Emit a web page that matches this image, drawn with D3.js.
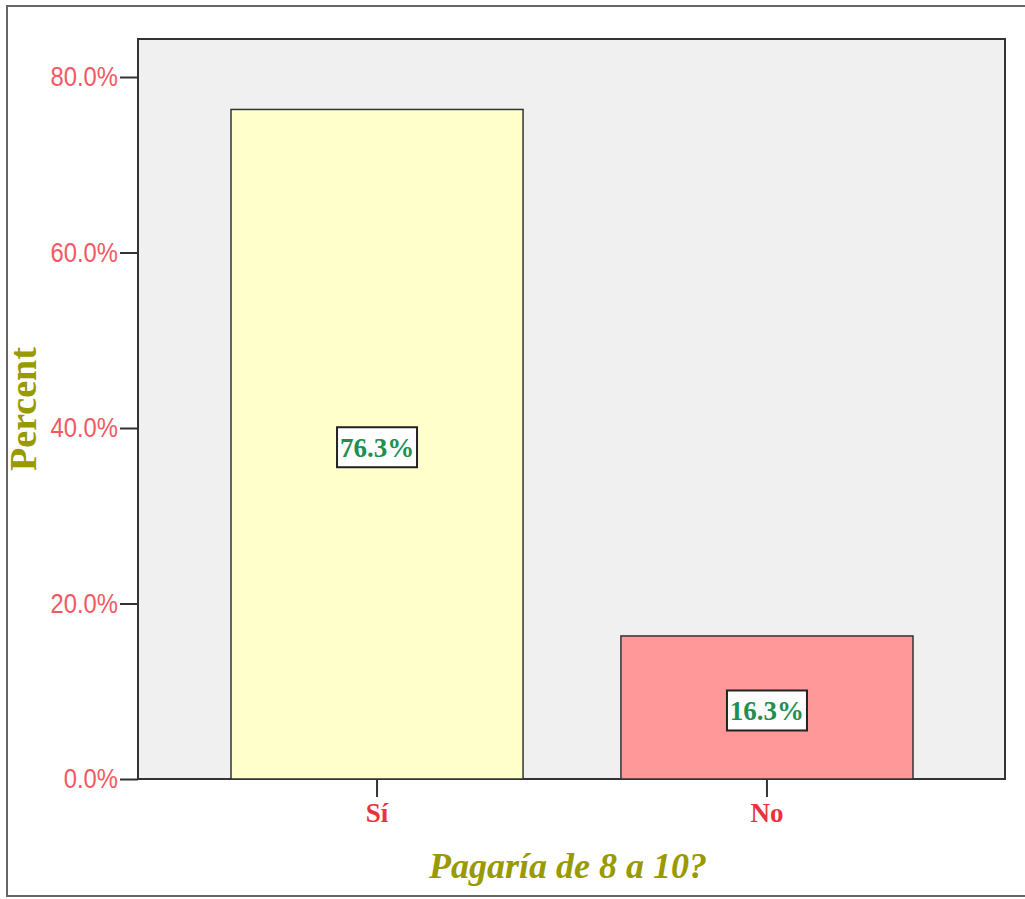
<!DOCTYPE html>
<html>
<head>
<meta charset="utf-8">
<script src="https://cdn.jsdelivr.net/npm/d3@7"></script>
<style>
  body { margin: 0; background: #fff; }
  svg { display: block; }
</style>
</head>
<body>
<svg id="chart" width="1025" height="899"></svg>
<script>
// chart data
const categories = ["Sí", "No"];
const percents = [76.3, 16.3];
const barColors = ["#ffffcc", "#ff9999"];
const yTicks = [0, 20, 40, 60, 80];

const svg = d3.select("#chart");

// outer frame
svg.append("rect")
    .attr("x", 7).attr("y", 6)
    .attr("width", 1040).attr("height", 890)
    .attr("fill", "#fff")
    .attr("stroke", "#666")
    .attr("stroke-width", 2);

// plot area
const plot = { left: 138, top: 39, right: 1005, bottom: 779 };

const y = d3.scaleLinear()
    .domain([0, 80])
    .range([plot.bottom, 77]);

const x = d3.scaleBand()
    .domain(categories)
    .range([231, 913])
    .paddingInner(0.251)
    .paddingOuter(0);

svg.append("rect")
    .attr("x", plot.left).attr("y", plot.top)
    .attr("width", plot.right - plot.left)
    .attr("height", plot.bottom - plot.top)
    .attr("fill", "#f0f0f0")
    .attr("stroke", "#333")
    .attr("stroke-width", 2);

// bars
svg.selectAll("rect.bar")
    .data(percents)
    .enter()
    .append("rect")
    .attr("class", "bar")
    .attr("x", (d, i) => x(categories[i]))
    .attr("y", d => y(d))
    .attr("width", x.bandwidth())
    .attr("height", d => y(0) - y(d))
    .attr("fill", (d, i) => barColors[i])
    .attr("stroke", "#333")
    .attr("stroke-width", 1.5);

// y axis (labels squeezed sideways to look like a narrow font)
const squeeze = 0.85;
const yAxis = svg.append("g")
    .attr("transform", `translate(${plot.left},0)`)
    .call(d3.axisLeft(y).tickValues(yTicks).tickSize(18).tickPadding(2)
        .tickFormat(d => d.toFixed(1) + "%"));
yAxis.select(".domain").remove();
yAxis.selectAll(".tick line").attr("stroke", "#333").attr("stroke-width", 2);
yAxis.selectAll(".tick text")
    .attr("x", -20 / squeeze)
    .attr("transform", `scale(${squeeze},1)`)
    .attr("fill", "#f25864")
    .attr("font-family", "'Liberation Sans', Arial, sans-serif")
    .attr("font-size", "28px");

// x axis
const xAxis = svg.append("g")
    .attr("transform", `translate(0,${plot.bottom})`)
    .call(d3.axisBottom(x).tickSize(18).tickPadding(6));
xAxis.select(".domain").remove();
xAxis.selectAll(".tick line").attr("stroke", "#333").attr("stroke-width", 2);
xAxis.selectAll(".tick text")
    .attr("fill", "#e8323e")
    .attr("font-family", "'Liberation Serif', 'Times New Roman', serif")
    .attr("font-weight", "bold")
    .attr("font-size", "27px");

// value labels in boxes
const labels = svg.selectAll("g.lbl")
    .data(percents)
    .enter()
    .append("g")
    .attr("class", "lbl")
    .attr("transform", (d, i) =>
        `translate(${x(categories[i]) + x.bandwidth() / 2},${(y(d) + y(0)) / 2 + 3})`);

labels.append("rect")
    .attr("x", -40).attr("y", -20)
    .attr("width", 80).attr("height", 40)
    .attr("fill", "#fff")
    .attr("stroke", "#222")
    .attr("stroke-width", 2);

labels.append("text")
    .attr("text-anchor", "middle")
    .attr("dy", "0.36em")
    .attr("fill", "#1f8f4e")
    .attr("font-family", "'Liberation Serif', 'Times New Roman', serif")
    .attr("font-weight", "bold")
    .attr("font-size", "27px")
    .text(d => d.toFixed(1) + "%");

// axis titles
svg.append("text")
    .attr("transform", "translate(36,409) rotate(-90)")
    .attr("text-anchor", "middle")
    .attr("fill", "#999900")
    .attr("font-family", "'Liberation Serif', 'Times New Roman', serif")
    .attr("font-weight", "bold")
    .attr("font-size", "38px")
    .text("Percent");

svg.append("text")
    .attr("x", 568).attr("y", 878)
    .attr("text-anchor", "middle")
    .attr("fill", "#999900")
    .attr("font-family", "'Liberation Serif', 'Times New Roman', serif")
    .attr("font-weight", "bold")
    .attr("font-style", "italic")
    .attr("font-size", "36px")
    .text("Pagaría de 8 a 10?");
</script>
</body>
</html>
